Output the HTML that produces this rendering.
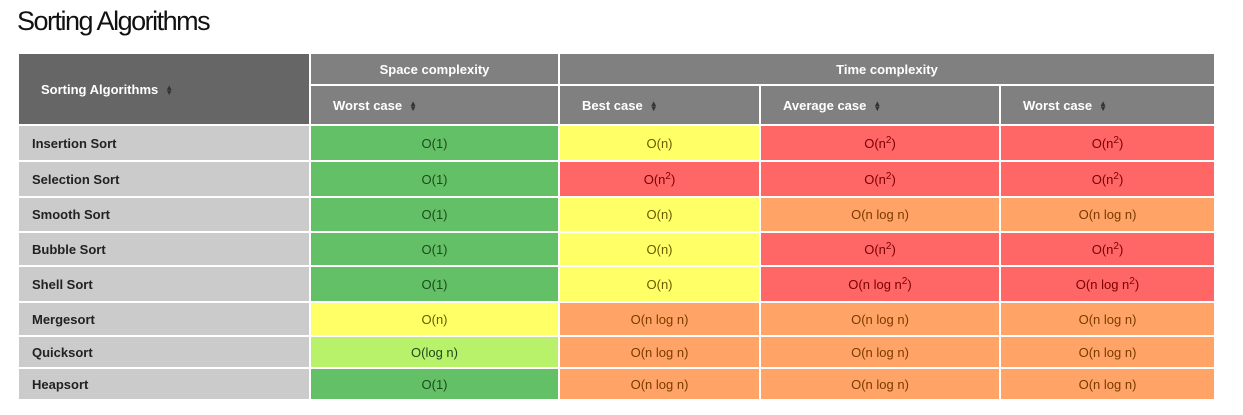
<!DOCTYPE html>
<html><head><meta charset="utf-8"><style>
body{margin:0;width:1243px;height:415px;background:#fff;font-family:"Liberation Sans",Arial,sans-serif;position:relative;overflow:hidden}
.c{position:absolute;display:flex;align-items:center;justify-content:center;font-size:13px;box-sizing:border-box}
.h{color:#fff;font-weight:bold;font-size:13px}
.l{justify-content:flex-start;padding-left:13px;font-weight:bold;color:#222;background:#cbcbcb}
.s{margin-left:7px;color:#333;display:inline-block;line-height:5px;font-size:8px;vertical-align:middle}
sup{font-size:10px;vertical-align:5px;line-height:0}
.g{background:#64c066;color:#1c4a1c}.y{background:#ffff66;color:#6b5a00}.r{background:#ff6666;color:#7a0000}.o{background:#ffa366;color:#7a3a00}.lg{background:#b8f26b;color:#1c4a1c}
</style></head><body>
<div style="position:absolute;left:17px;top:6px;font-size:27px;letter-spacing:-1.5px;color:#111">Sorting Algorithms</div>
<div id="t"></div>
<script>
const cols=[[19,309],[311,558],[560,759],[761,999],[1001,1214]];
const rowsY=[[126,160],[162,196],[198,231],[233,265],[267,301],[303,335],[337,367],[369,399]];
const names=["Insertion Sort","Selection Sort","Smooth Sort","Bubble Sort","Shell Sort","Mergesort","Quicksort","Heapsort"];
const vals=[
[["O(1)","g"],["O(n)","y"],["O(n<sup>2</sup>)","r"],["O(n<sup>2</sup>)","r"]],
[["O(1)","g"],["O(n<sup>2</sup>)","r"],["O(n<sup>2</sup>)","r"],["O(n<sup>2</sup>)","r"]],
[["O(1)","g"],["O(n)","y"],["O(n log n)","o"],["O(n log n)","o"]],
[["O(1)","g"],["O(n)","y"],["O(n<sup>2</sup>)","r"],["O(n<sup>2</sup>)","r"]],
[["O(1)","g"],["O(n)","y"],["O(n log n<sup>2</sup>)","r"],["O(n log n<sup>2</sup>)","r"]],
[["O(n)","y"],["O(n log n)","o"],["O(n log n)","o"],["O(n log n)","o"]],
[["O(log n)","lg"],["O(n log n)","o"],["O(n log n)","o"],["O(n log n)","o"]],
[["O(1)","g"],["O(n log n)","o"],["O(n log n)","o"],["O(n log n)","o"]]];
const t=document.getElementById('t');
function cell(x0,x1,y0,y1,cls,html,name,inter){
 const d=document.createElement('div');d.className='c '+cls;
 d.style.left=x0+'px';d.style.width=(x1-x0)+'px';d.style.top=y0+'px';d.style.height=(y1-y0)+'px';
 d.innerHTML='<span>'+html+'</span>';
 
 
 t.appendChild(d);return d;}
const sort='<span class="s">&#9650;<br>&#9660;</span>';
let d=cell(19,309,54,124,'h l',"Sorting Algorithms"+sort,'sort-algorithms-header',true);d.style.background='#666';d.style.color='#fff';d.style.paddingLeft='22px';
d=cell(311,558,54,84,'h','Space complexity','space-complexity-header',false);d.style.background='#808080';
d=cell(560,1214,54,84,'h','Time complexity','time-complexity-header',false);d.style.background='#808080';
const sub=["Worst case","Best case","Average case","Worst case"];
const subn=["space-worst-header","time-best-header","time-average-header","time-worst-header"];
for(let i=0;i<4;i++){d=cell(cols[i+1][0],cols[i+1][1],86,124,'h',sub[i]+sort,subn[i],true);d.style.background='#808080';d.style.justifyContent='flex-start';d.style.paddingLeft='22px';}
for(let r=0;r<names.length;r++){
 const [y0,y1]=rowsY[r];
 cell(19,309,y0,y1,'l',names[r],'row-label-'+names[r].toLowerCase().replace(/ /g,'-'),false);
 for(let i=0;i<4;i++){cell(cols[i+1][0],cols[i+1][1],y0,y1,vals[r][i][1],vals[r][i][0],'cell-'+r+'-'+i,false);}
}
</script>
</body></html>
